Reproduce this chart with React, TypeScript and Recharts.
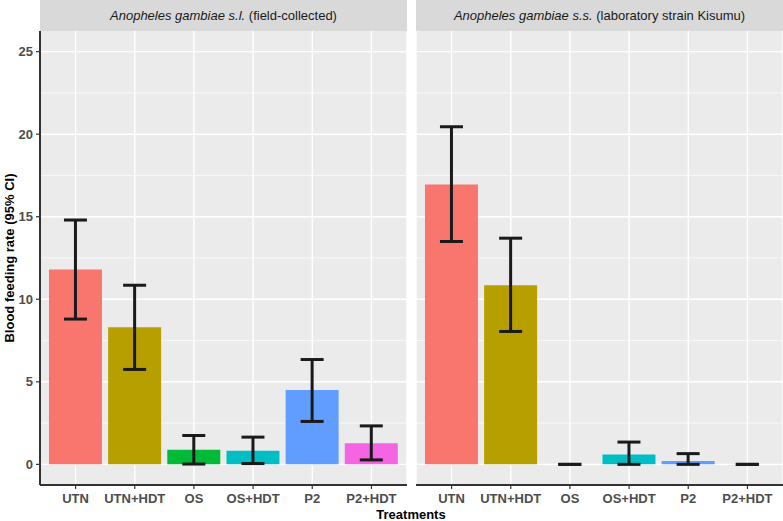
import React from 'react';
import { BarChart, Bar, XAxis, YAxis, CartesianGrid, ErrorBar, Cell } from 'recharts';

const categories = ['UTN', 'UTN+HDT', 'OS', 'OS+HDT', 'P2', 'P2+HDT'];
const fieldRate = [11.8, 8.3, 0.88, 0.83, 4.5, 1.28];
const fieldLow = [8.8, 5.75, 0.02, 0.05, 2.6, 0.27];
const fieldHigh = [14.8, 10.85, 1.75, 1.65, 6.35, 2.33];
const labRate = [16.95, 10.85, 0, 0.6, 0.2, 0];
const labLow = [13.5, 8.05, 0, 0, 0, 0];
const labHigh = [20.45, 13.7, 0, 1.35, 0.65, 0];
const colors = ['#F8766D', '#B79F00', '#00BA38', '#00BFC4', '#619CFF', '#F564E3'];
const yTicks = [0, 5, 10, 15, 20, 25];
const yMinor = [2.5, 7.5, 12.5, 17.5, 22.5];
const yDomain = [-1.25, 26.25];

const FONT = '"Liberation Sans", Arial, Helvetica, sans-serif';

function build(rate: number[], low: number[], high: number[]) {
  return categories.map((c, i) => ({
    treatment: c,
    rate: rate[i],
    err: [rate[i] - low[i], high[i] - rate[i]],
  }));
}

const fieldData = build(fieldRate, fieldLow, fieldHigh);
const labData = build(labRate, labLow, labHigh);

function gen(values: number[]) {
  return (props: any) => {
    const yAxis = props && props.yAxis;
    if (yAxis && typeof yAxis.scale === 'function') {
      return values.map((t) => yAxis.scale(t));
    }
    const off = props.offset || {};
    const top = off.top ?? 0;
    const h = off.height ?? 0;
    return values.map((t) => top + ((yDomain[1] - t) / (yDomain[1] - yDomain[0])) * h);
  };
}

function Panel({ data, showY, width, left }: { data: any[]; showY: boolean; width: number; left: number }) {
  return (
    <div style={{ position: 'absolute', left, top: 31 }}>
      <BarChart
        width={width}
        height={490}
        data={data}
        margin={{ top: 0, right: 0, bottom: 0, left: 0 }}
        barCategoryGap="5%"
        style={{ fontFamily: FONT }}
      >
        <CartesianGrid fill="#EBEBEB" stroke="#FFFFFF" strokeWidth={1.4} horizontalCoordinatesGenerator={gen(yTicks)} />
        <CartesianGrid stroke="#FFFFFF" strokeWidth={0.7} vertical={false} horizontalCoordinatesGenerator={gen(yMinor)} />
        <XAxis
          dataKey="treatment"
          type="category"
          height={36}
          padding={{ left: 6, right: 6 }}
          axisLine={{ stroke: '#333333', strokeWidth: 2 }}
          tickLine={{ stroke: '#333333', strokeWidth: 1.2 }}
          tickSize={4}
          tickMargin={5}
          interval={0}
          tick={{ fill: '#4D4D4D', fontSize: 13, fontWeight: 'bold', fontFamily: FONT }}
        />
        <YAxis
          type="number"
          domain={yDomain}
          ticks={yTicks}
          allowDataOverflow
          hide={!showY}
          width={40}
          axisLine={{ stroke: '#333333', strokeWidth: 2 }}
          tickLine={{ stroke: '#333333', strokeWidth: 1.2 }}
          tickSize={4}
          tickMargin={3}
          tick={{ fill: '#4D4D4D', fontSize: 13, fontWeight: 'bold', fontFamily: FONT }}
        />
        <Bar dataKey="rate" isAnimationActive={false} minPointSize={(v: number) => (v === 0 ? 0.01 : 0)}>
          {data.map((d, i) => (
            <Cell key={d.treatment} fill={colors[i]} />
          ))}
          <ErrorBar dataKey="err" direction="y" width={11.5} stroke="#1A1A1A" strokeWidth={3} isAnimationActive={false} />
        </Bar>
      </BarChart>
    </div>
  );
}

const stripStyle: React.CSSProperties = {
  position: 'absolute',
  top: 0,
  height: 31,
  width: 367,
  background: '#D9D9D9',
  color: '#1A1A1A',
  fontSize: 13,
  fontFamily: FONT,
  display: 'flex',
  alignItems: 'center',
  justifyContent: 'center',
  whiteSpace: 'nowrap',
};

export default function App() {
  return (
    <div
      style={{
        position: 'absolute',
        left: 0,
        top: 0,
        width: 783,
        height: 521,
        background: '#FFFFFF',
        fontFamily: FONT,
        overflow: 'hidden',
      }}
    >
      <div style={{ ...stripStyle, left: 40 }}>
        <span>
          <i>Anopheles gambiae s.l.</i> (field-collected)
        </span>
      </div>
      <div style={{ ...stripStyle, left: 416 }}>
        <span>
          <i>Anopheles gambiae s.s.</i> (laboratory strain Kisumu)
        </span>
      </div>
      <Panel data={fieldData} showY={true} width={407} left={0} />
      <Panel data={labData} showY={false} width={367} left={416} />
      <div
        style={{
          position: 'absolute',
          left: 9,
          top: 258,
          transform: 'translate(-50%, -50%) rotate(-90deg)',
          whiteSpace: 'nowrap',
          fontWeight: 'bold',
          fontSize: 13,
          color: '#000',
        }}
      >
        Blood feeding rate (95% CI)
      </div>
      <div
        style={{
          position: 'absolute',
          left: 411,
          top: 514,
          transform: 'translate(-50%, -50%)',
          whiteSpace: 'nowrap',
          fontWeight: 'bold',
          fontSize: 13,
          color: '#000',
        }}
      >
        Treatments
      </div>
    </div>
  );
}
